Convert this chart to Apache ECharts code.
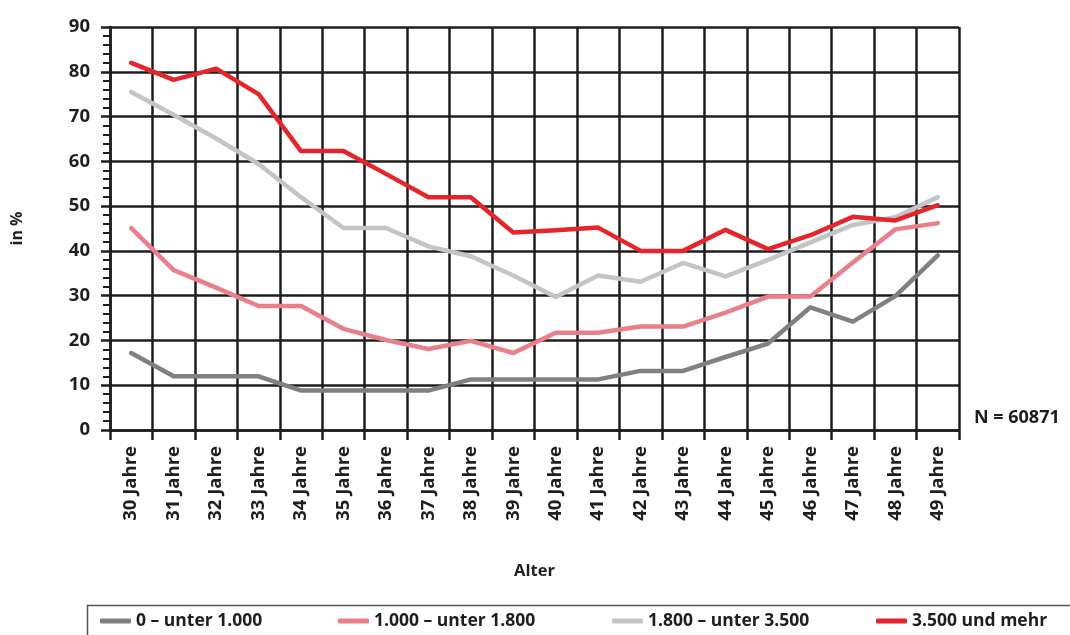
<!DOCTYPE html>
<html>
<head>
<meta charset="utf-8">
<script src="https://cdn.jsdelivr.net/npm/echarts@6/dist/echarts.min.js"></script>
<style>
  html, body { margin: 0; padding: 0; background: #fff; }
  #chart { width: 1070px; height: 635px; }
</style>
</head>
<body>
<div id="chart"></div>
<script>
  // Altersgruppen
  const ages = ['30 Jahre', '31 Jahre', '32 Jahre', '33 Jahre', '34 Jahre', '35 Jahre', '36 Jahre',
    '37 Jahre', '38 Jahre', '39 Jahre', '40 Jahre', '41 Jahre', '42 Jahre', '43 Jahre', '44 Jahre',
    '45 Jahre', '46 Jahre', '47 Jahre', '48 Jahre', '49 Jahre'];

  const seriesNames = ['0 – unter 1.000', '1.000 – unter 1.800', '1.800 – unter 3.500', '3.500 und mehr'];

  const unter1000 = [17.2, 12, 12, 12, 8.8, 8.8, 8.8, 8.8, 11.3, 11.3, 11.3, 11.3, 13.2, 13.2, 16.3, 19.3, 27.4, 24.2, 29.9, 39];
  const unter1800 = [45.1, 35.7, 31.8, 27.7, 27.7, 22.6, 20.1, 18.1, 19.9, 17.2, 21.7, 21.7, 23.1, 23.1, 26.2, 29.8, 29.8, 37.4, 44.8, 46.2];
  const unter3500 = [75.5, 70.4, 65.1, 59.4, 52, 45.1, 45.1, 41, 38.8, 34.5, 29.7, 34.5, 33.1, 37.3, 34.3, 38, 41.9, 45.8, 47.5, 52];
  const mehr3500 = [82, 78.2, 80.7, 75, 62.3, 62.3, 57.2, 52, 52, 44.1, 44.6, 45.2, 40, 40, 44.7, 40.4, 43.5, 47.6, 46.8, 50.2];

  const yTicks = { min: 0, max: 90, interval: 10 };

  const colors = ['#7f8083', '#e87f8a', '#c3c4c6', '#e4252b'];
  const fontFam = '"Open Sans", "DejaVu Sans", sans-serif';
  const ink = '#1e1e1e';
  // legend item positions (left edge of icon)
  const legendLeft = [95, 333, 607, 871];

  const chart = echarts.init(document.getElementById('chart'));

  const legends = seriesNames.map((name, i) => ({
    data: [name],
    left: legendLeft[i],
    top: 607,
    itemWidth: 31,
    itemHeight: 5,
    itemGap: 8,
    icon: 'roundRect',
    textStyle: {
      fontFamily: fontFam,
      fontWeight: 'bold',
      fontSize: 17.5,
      color: ink
    }
  }));

  const option = {
    animation: false,
    color: colors,
    grid: {
      left: 108,
      right: 111,
      top: 27,
      bottom: 205
    },
    legend: legends,
    xAxis: {
      type: 'category',
      data: ages,
      boundaryGap: true,
      name: 'Alter',
      nameLocation: 'middle',
      nameGap: 133,
      nameTextStyle: {
        fontFamily: fontFam,
        fontWeight: 'bold',
        fontSize: 16.5,
        color: ink
      },
      axisLine: {
        lineStyle: { color: ink, width: 2.5 }
      },
      axisTick: {
        show: true,
        interval: 0,
        length: 10,
        lineStyle: { color: ink, width: 2.5 }
      },
      axisLabel: {
        interval: 0,
        rotate: 90,
        margin: 16,
        fontFamily: fontFam,
        fontWeight: 'bold',
        fontSize: 18.5,
        color: ink
      },
      splitLine: {
        show: true,
        interval: 0,
        lineStyle: { color: ink, width: 2.5 }
      }
    },
    yAxis: {
      type: 'value',
      min: yTicks.min,
      max: yTicks.max,
      interval: yTicks.interval,
      name: 'in %',
      nameLocation: 'middle',
      nameGap: 84,
      nameRotate: 90,
      nameTextStyle: {
        fontFamily: fontFam,
        fontWeight: 'bold',
        fontSize: 16,
        color: ink,
        padding: [0, 0, 0, 0],
        align: 'center',
        lineHeight: 18
      },
      axisLine: {
        show: true,
        lineStyle: { color: ink, width: 2.5 }
      },
      axisTick: {
        show: true,
        length: 9,
        lineStyle: { color: ink, width: 2.5 }
      },
      minorTick: {
        show: true,
        splitNumber: 5,
        length: 7,
        lineStyle: { color: ink, width: 2 }
      },
      axisLabel: {
        margin: 20,
        fontFamily: fontFam,
        fontWeight: 'bold',
        fontSize: 18.5,
        color: ink
      },
      splitLine: {
        show: true,
        lineStyle: { color: ink, width: 2.5 }
      }
    },
    graphic: [
      {
        type: 'rect',
        left: 85,
        top: 603,
        shape: { width: 1000, height: 40 },
        style: { fill: 'none', stroke: '#555', lineWidth: 1.5 },
        z: -1
      },
      {
        type: 'text',
        left: 974,
        top: 409,
        style: {
          text: 'N = 60871',
          font: 'bold 18px ' + fontFam,
          fill: ink
        }
      }
    ],
    series: [unter1000, unter1800, unter3500, mehr3500].map((vals, i) => ({
      name: seriesNames[i],
      type: 'line',
      data: vals,
      symbol: 'none',
      lineStyle: { width: 4.5, cap: 'round', join: 'round' },
      z: 3 + i
    }))
  };

  chart.setOption(option);
</script>
</body>
</html>
